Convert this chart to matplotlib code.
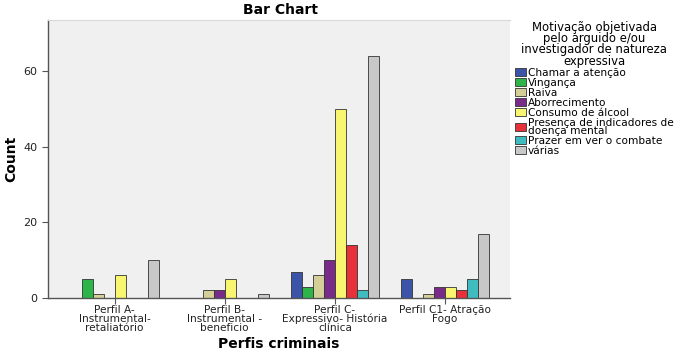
import matplotlib
matplotlib.use("Agg")
import matplotlib.pyplot as plt
import numpy as np

categories = ["Perfil A-\nInstrumental-\nretaliatório", "Perfil B-\nInstrumental -\nbeneficio",
              "Perfil C-\nExpressivo- História\nclínica", "Perfil C1- Atração\nFogo"]
series = ["Chamar a atenção", "Vingança", "Raiva", "Aborrecimento", "Consumo de álcool",
          "Presença de indicadores de\ndoença mental", "Prazer em ver o combate", "várias"]
values = {
    "Chamar a atenção": [0, 0, 7, 5],
    "Vingança": [5, 0, 3, 0],
    "Raiva": [1, 2, 6, 1],
    "Aborrecimento": [0, 2, 10, 3],
    "Consumo de álcool": [6, 5, 50, 3],
    "Presença de indicadores de\ndoença mental": [0, 0, 14, 2],
    "Prazer em ver o combate": [0, 0, 2, 5],
    "várias": [10, 1, 64, 17],
}
colors = ["#3b54a8", "#2db54a", "#d4cf98", "#7a2a88", "#f8f570", "#e6303a", "#3fbcc0", "#c8c8c8"]
yticks = [0, 20, 40, 60]

fig = plt.figure(figsize=(6.84, 3.61), dpi=100)
ax = fig.add_axes([48/684, 1-298/361, (510-48)/684, (298-20)/361])
ax.set_facecolor("#f0f0f0")

x = np.arange(len(categories))
w = 0.1
for i, s in enumerate(series):
    vals = values[s]
    ax.bar(x + (i - 3.5) * w, vals, width=w, color=colors[i], edgecolor="#333333",
           linewidth=0.6, label=s)

ax.set_xlim(-0.605, 3.59)
ax.set_ylim(0, 73.5)
ax.set_yticks(yticks)
ax.set_xticks(x)
ax.set_xticklabels(categories, fontsize=7.6, linespacing=0.85)
ax.tick_params(axis="y", labelsize=8, length=4, color="#555555", labelcolor="#222222")
ax.tick_params(axis="x", length=4, color="#555555", labelcolor="#222222", pad=1)
for sp in ["left", "bottom"]:
    ax.spines[sp].set_color("#555555")
    ax.spines[sp].set_linewidth(1.0)
ax.spines["top"].set_color("#d8d8d8")
ax.spines["right"].set_visible(False)

ax.set_ylabel("Count", fontsize=10, fontweight="bold", labelpad=4)
ax.set_xlabel("Perfis criminais", fontsize=10, fontweight="bold", labelpad=3)
fig.text(0.41, 0.972, "Bar Chart", ha="center", va="center", fontsize=10, fontweight="bold")

leg = fig.legend(loc="upper left", bbox_to_anchor=(515/684, 1-21/361),
                 title="Motivação objetivada\npelo arguido e/ou\ninvestigador de natureza\nexpressiva",
                 fontsize=7.6, title_fontsize=8.4, frameon=False, handlelength=1.0, handleheight=0.75,
                 handletextpad=0.2, labelspacing=0.0, borderaxespad=0, borderpad=0)
leg.get_title().set_multialignment("center")
leg.get_title().set_linespacing(0.82)
for t in leg.get_texts():
    t.set_linespacing(0.8)

fig.savefig("out.png", dpi=100)
